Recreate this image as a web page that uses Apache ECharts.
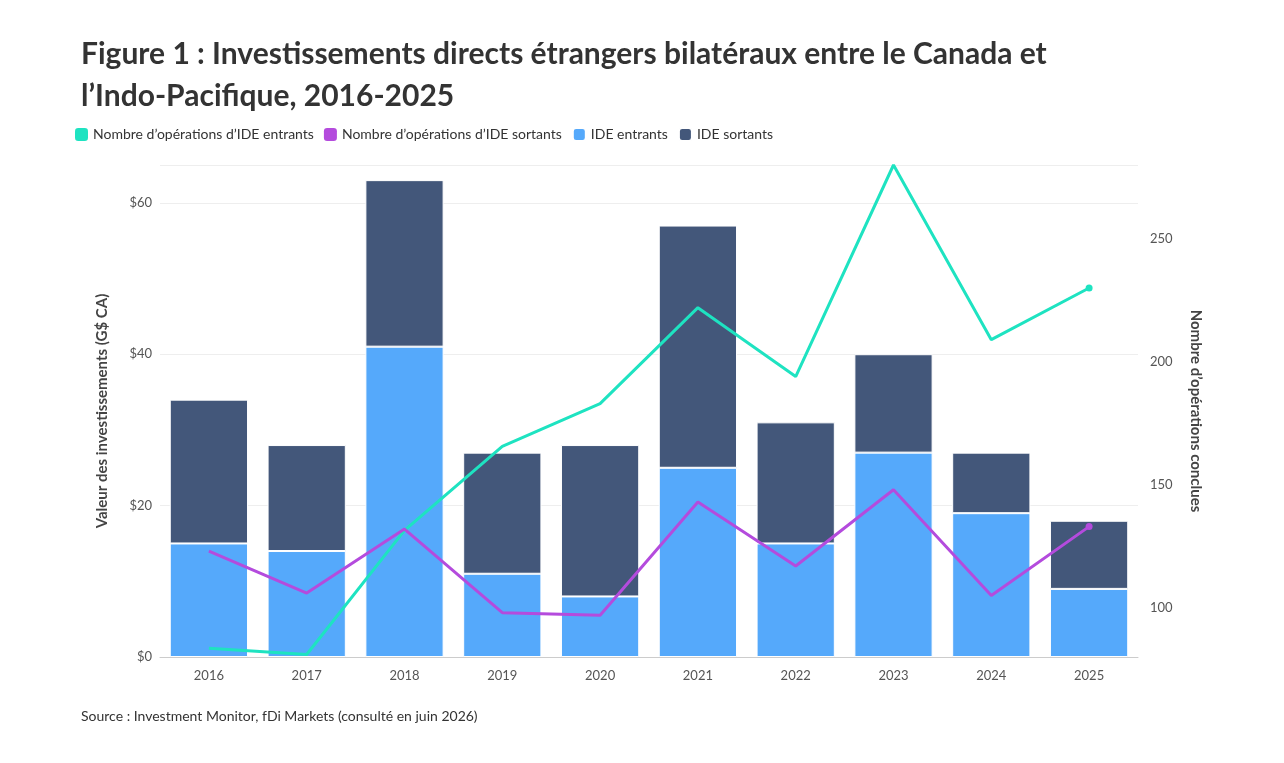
<!DOCTYPE html>
<html><head><meta charset="utf-8">
<script src="https://cdn.jsdelivr.net/npm/echarts@6/dist/echarts.min.js"></script>
<style>html,body{margin:0;background:#fff}#chart{width:1284px;height:763px}</style>
</head><body><div id="chart"></div>
<script>
var years = ['2016','2017','2018','2019','2020','2021','2022','2023','2024','2025'];
var ideEntrants = [15, 14, 41, 11, 8, 25, 15, 27, 19, 9];
var ideSortants = [19, 14, 22, 16, 20, 32, 16, 13, 8, 9];
var opsEntrants = [83.6, 81, 131.5, 165.6, 183, 222, 194, 280, 209, 230];
var opsSortants = [123, 106, 132, 98, 97, 143, 117, 148, 105, 133];

var font = 'Lato, "Noto Sans", sans-serif';
var chart = echarts.init(document.getElementById('chart'));

// point marqué seulement pour la dernière année
function lastDot(arr) {
    return arr.map(function (v, i) {
        return i === arr.length - 1 ? {value: v, symbol: 'circle', symbolSize: 7} : {value: v, symbol: 'none'};
    });
}

chart.setOption({
    textStyle: {fontFamily: font},
    title: [{
        text: 'Figure 1 : Investissements directs étrangers bilatéraux entre le Canada et\nl’Indo-Pacifique, 2016-2025',
        left: 76, top: 28,
        textStyle: {fontSize: 30, fontWeight: 'bold', color: '#333', lineHeight: 42, fontFamily: font}
    }, {
        text: 'Source : Investment Monitor, fDi Markets (consulté en juin 2026)',
        left: 76, top: 704,
        textStyle: {fontSize: 14, fontWeight: 'normal', color: '#333', fontFamily: font}
    }],
    legend: {
        left: 70, top: 122,
        itemWidth: 13, itemHeight: 13, itemGap: 10,
        icon: 'roundRect',
        textStyle: {fontSize: 14, color: '#333'},
        data: ['Nombre d’opérations d’IDE entrants', 'Nombre d’opérations d’IDE sortants', 'IDE entrants', 'IDE sortants']
    },
    grid: {left: 160, right: 146, top: 165, bottom: 106},
    xAxis: {
        type: 'category', data: years,
        axisLine: {lineStyle: {color: '#ccc'}},
        axisTick: {show: false},
        axisLabel: {color: '#555', fontSize: 13, margin: 12}
    },
    yAxis: [{
        type: 'value', min: 0, max: 65, interval: 20,
        name: 'Valeur des investissements (G$ CA)', nameLocation: 'middle', nameGap: 50,
        nameTextStyle: {fontSize: 15, fontWeight: 'bold', color: '#444'},
        axisLabel: {formatter: '${value}', color: '#555', fontSize: 13, showMaxLabel: false},
        splitLine: {lineStyle: {color: '#eee'}}
    }, {
        type: 'value', min: 80, max: 280, interval: 10,
        name: 'Nombre d’opérations conclues', nameLocation: 'middle', nameGap: 50, nameRotate: 270,
        nameTextStyle: {fontSize: 15, fontWeight: 'bold', color: '#444'},
        axisLabel: {
            color: '#555', fontSize: 13, margin: 12,
            formatter: function (v) { return v % 50 === 0 ? String(v) : ''; }
        },
        splitLine: {show: false}
    }],
    series: [{
        name: 'IDE entrants', type: 'bar', stack: 'ide', barWidth: '80%',
        itemStyle: {color: '#55a9fb', borderColor: '#fff', borderWidth: 1},
        data: ideEntrants
    }, {
        name: 'IDE sortants', type: 'bar', stack: 'ide',
        itemStyle: {color: '#43577a', borderColor: '#fff', borderWidth: 1},
        data: ideSortants
    }, {
        name: 'Nombre d’opérations d’IDE entrants', type: 'line', yAxisIndex: 1,
        itemStyle: {color: '#1ee3c1'}, lineStyle: {width: 3, color: '#1ee3c1'},
        data: lastDot(opsEntrants)
    }, {
        name: 'Nombre d’opérations d’IDE sortants', type: 'line', yAxisIndex: 1,
        itemStyle: {color: '#b44bdd'}, lineStyle: {width: 3, color: '#b44bdd'},
        data: lastDot(opsSortants)
    }]
});
</script></body></html>
